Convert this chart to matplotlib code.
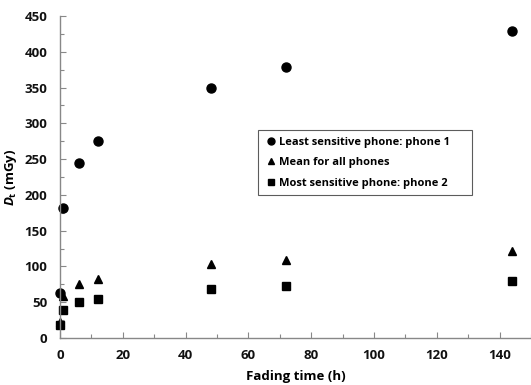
import matplotlib
matplotlib.use("Agg")
import matplotlib.pyplot as plt
from matplotlib.ticker import MultipleLocator

plt.rcParams['font.family'] = ['Open Sans', 'DejaVu Sans']
plt.rcParams['mathtext.fontset'] = 'custom'
plt.rcParams['mathtext.it'] = 'Open Sans:italic:bold'
plt.rcParams['mathtext.rm'] = 'Open Sans:bold'

time_h = [0, 1, 6, 12, 48, 72, 144]
phone1 = [63, 181, 245, 275, 350, 379, 429]
mean_all = [22, 58, 75, 83, 103, 109, 122]
phone2 = [18, 39, 51, 55, 68, 72, 80]

labels = ["Least sensitive phone: phone 1", "Mean for all phones", "Most sensitive phone: phone 2"]

fig = plt.figure(figsize=(5.31, 3.85), dpi=100)
ax = fig.add_axes([60/531, (385-338)/385, (531-60)/531, (338-16)/385])

ax.plot(time_h, phone1, 'o', color='black', markersize=6.5, label=labels[0], clip_on=False)
ax.plot(time_h, mean_all, '^', color='black', markersize=5.5, label=labels[1], clip_on=False)
ax.plot(time_h, phone2, 's', color='black', markersize=5.5, label=labels[2], clip_on=False)

ax.set_xlim(0, 150)
ax.set_ylim(0, 450)
ax.xaxis.set_major_locator(MultipleLocator(20))
ax.xaxis.set_minor_locator(MultipleLocator(10))
ax.yaxis.set_major_locator(MultipleLocator(50))
ax.yaxis.set_minor_locator(MultipleLocator(25))

for s in ['top', 'right']:
    ax.spines[s].set_visible(False)
for s in ['left', 'bottom']:
    ax.spines[s].set_color('#888888')
    ax.spines[s].set_linewidth(1.0)

fs = 9.5
ax.tick_params(axis='both', which='both', direction='in', color='#888888', width=0.8)
ax.tick_params(axis='both', which='major', length=4, labelsize=fs, labelcolor='#111111')
ax.tick_params(axis='both', which='minor', length=3)
for lab in ax.get_xticklabels() + ax.get_yticklabels():
    lab.set_fontweight('bold')
ax.tick_params(axis='x', pad=8)
ax.tick_params(axis='y', pad=9)

ax.set_xlabel('Fading time (h)', fontsize=fs, fontweight='bold', labelpad=6)
ax.set_ylabel(r'$D_\mathrm{t}$ (mGy)', fontsize=fs, fontweight='bold', labelpad=4)

leg = ax.legend(loc='upper left',
                bbox_to_anchor=((258-60)/471, (338-202)/322, (472-258)/471, (202-130)/322),
                mode='expand', frameon=True, fancybox=False, handletextpad=0.15,
                handlelength=1.1, borderaxespad=0, labelspacing=0.85, borderpad=0.6,
                prop={'weight': 'bold', 'size': 8})
leg.get_frame().set_edgecolor('#333333')
leg.get_frame().set_linewidth(0.8)
for h in leg.legend_handles:
    h.set_markersize(5)

fig.savefig('out.png', dpi=100)
